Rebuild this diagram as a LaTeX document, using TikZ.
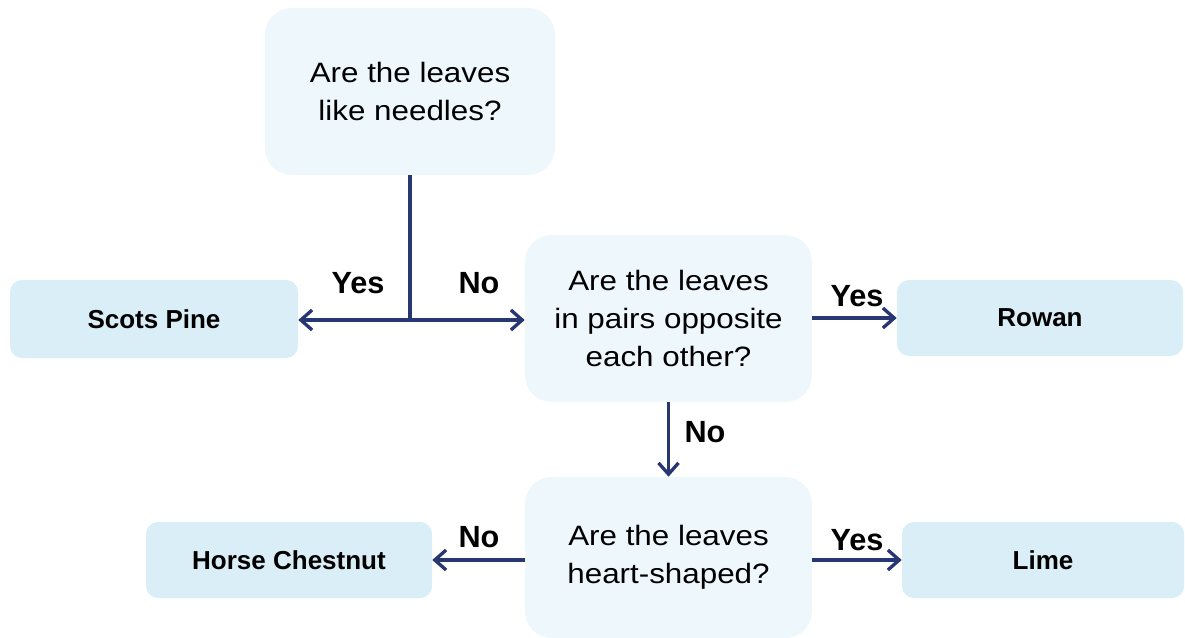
\documentclass[tikz,border=0pt]{standalone}
\usepackage{fontspec}
\setmainfont{Liberation Sans}
\newfontfamily\qfont[FakeStretch=1.12]{Liberation Sans}
\usetikzlibrary{arrows.meta}
\definecolor{qfill}{HTML}{EEF7FC}
\definecolor{lfill}{HTML}{D9EEF7}
\definecolor{arr}{HTML}{283772}
\begin{document}
\begin{tikzpicture}[x=0.75pt,y=-0.75pt,
 qbox/.style={fill=qfill, rounded corners=20pt, inner sep=0pt, align=center, font=\qfont\fontsize{21}{28.5}\selectfont},
 lbox/.style={fill=lfill, rounded corners=9pt, inner sep=0pt, align=center, font=\bfseries\fontsize{19.5}{24}\selectfont},
 line/.style={draw=arr, line width=2.5pt},
 conn/.style={line, -{Straight Barb[length=8.5pt,width=15pt,line width=2.5pt]}},
 lab/.style={font=\bfseries\fontsize{23}{27}\selectfont, inner sep=0pt}]
\useasboundingbox (0,0) rectangle (1185,638);
\node[qbox, minimum width=217.5pt, minimum height=125.25pt] (q1) at (410,91.5) {Are the leaves\\like needles?};
\node[qbox, minimum width=215.25pt, minimum height=125.25pt] (q2) at (668.5,318.5) {Are the leaves\\in pairs opposite\\each other?};
\node[qbox, minimum width=215.25pt, minimum height=120.75pt] (q3) at (668.5,557.5) {Are the leaves\\heart-shaped?};
\node[lbox, minimum width=216pt, minimum height=58.5pt] (scots) at (154,319) {Scots Pine};
\node[lbox, minimum width=214.5pt, minimum height=57pt] (rowan) at (1040,318) {Rowan};
\node[lbox, minimum width=214.5pt, minimum height=57pt] (horse) at (289,560) {Horse Chestnut};
\node[lbox, minimum width=211.5pt, minimum height=57pt] (lime) at (1043,560) {Lime};
\coordinate (j) at (410,320);
\draw[line] (q1.south) -- (j);
\draw[conn] (j) -- (scots.east |- j);
\draw[conn] (j) -- (q2.west |- j);
\draw[conn] (q2.east |- rowan.west) -- (rowan.west);
\draw[conn] (q2.south) -- (q3.north);
\draw[conn] (q3.west |- horse.east) -- (horse.east);
\draw[conn] (q3.east |- lime.west) -- (lime.west);
\node[lab] (l1) at (358,283) {Yes};
\node[lab] (l2) at (479,283) {No};
\node[lab] (l3) at (857,296) {Yes};
\node[lab] (l4) at (705,432) {No};
\node[lab] (l5) at (479,537) {No};
\node[lab] (l6) at (857,540) {Yes};
\end{tikzpicture}
\end{document}
